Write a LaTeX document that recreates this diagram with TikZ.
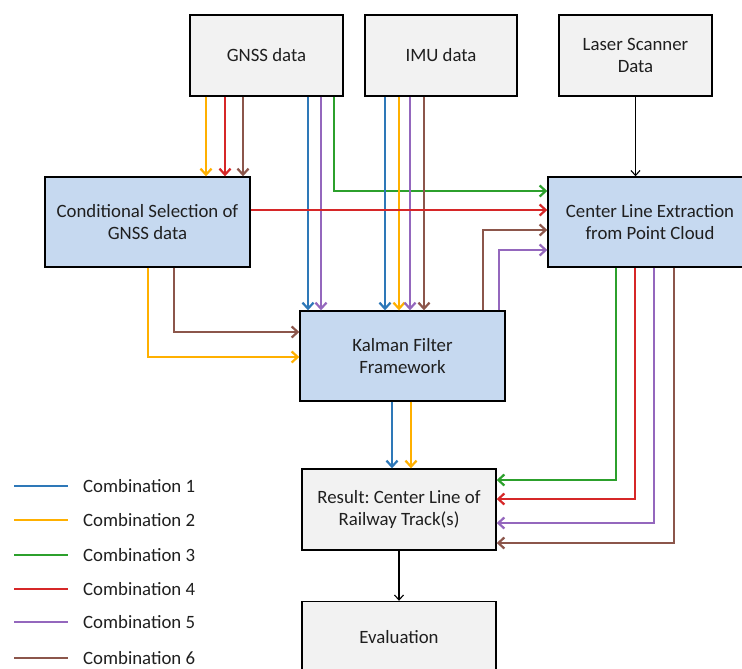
\documentclass[tikz,border=0pt]{standalone}
\usepackage{fontspec}
\setmainfont{Carlito}
\usetikzlibrary{arrows.meta}
\definecolor{cblue}{HTML}{2E78B8}
\definecolor{corange}{HTML}{FFB000}
\definecolor{cgreen}{HTML}{2CA02C}
\definecolor{cred}{HTML}{D62728}
\definecolor{cpurple}{HTML}{9467BD}
\definecolor{cbrown}{HTML}{8C564B}
\definecolor{boxgray}{HTML}{F2F2F2}
\definecolor{boxblue}{HTML}{C6D9F0}
\frenchspacing
\tikzset{
  x=1pt, y=-1pt,
  every node/.style={font=\fontsize{18.8}{22.5}\selectfont, text=black!88},
  graybox/.style={draw=black, line width=1.4pt, fill=boxgray, align=center, inner sep=0pt},
  bluebox/.style={draw=black, line width=1.4pt, fill=boxblue, align=center, inner sep=0pt},
  cl/.style={line width=2.5pt, -{Straight Barb[length=6pt,width=11pt,line width=2.2pt]}},
  leg/.style={line width=2.5pt},
  blk/.style={line width=1.1pt, black, -{Straight Barb[length=5pt,width=9pt,line width=1.1pt]}}
}
\begin{document}
\begin{tikzpicture}
\useasboundingbox (0,0) rectangle (742,669);
\clip (0,0) rectangle (742,669);
\fill[white] (0,0) rectangle (742,669);
% boxes
\node[graybox, minimum width=153pt, minimum height=81pt] (gnss) at (266.5,55.5) {GNSS data};
\node[graybox, minimum width=152pt, minimum height=81pt] (imu) at (441,55.5) {IMU data};
\node[graybox, minimum width=153pt, minimum height=81pt] (laser) at (635.5,55.5) {Laser Scanner\\Data};
\node[bluebox, minimum width=205pt, minimum height=90pt] (cond) at (147.5,222) {Conditional Selection of\\GNSS data};
\node[bluebox, minimum width=204pt, minimum height=90pt] (cl) at (650,222) {Center Line Extraction\\from Point Cloud};
\node[bluebox, minimum width=205pt, minimum height=90pt] (kal) at (402.5,356) {Kalman Filter\\Framework};
\node[graybox, minimum width=194pt, minimum height=81pt] (res) at (399,509.5) {Result: Center Line of\\Railway Track(s)};
\node[graybox, minimum width=194pt, minimum height=81pt] (eval) at (399,642) {};
\node at (399,637) (evaltext) {Evaluation};
% GNSS -> cond
\draw[cl, corange] (gnss.south -| 206,0) -- (cond.north -| 206,0);
\draw[cl, cred] (gnss.south -| 225,0) -- (cond.north -| 225,0);
\draw[cl, cbrown] (gnss.south -| 243,0) -- (cond.north -| 243,0);
% GNSS -> kalman
\draw[cl, cblue] (gnss.south -| 308,0) -- (kal.north -| 308,0);
\draw[cl, cpurple] (gnss.south -| 321,0) -- (kal.north -| 321,0);
% GNSS -> CL (green)
\draw[cl, cgreen] (gnss.south -| 334,0) |- (cl.west |- 0,191);
% IMU -> kalman
\draw[cl, cblue] (imu.south -| 385,0) -- (kal.north -| 385,0);
\draw[cl, corange] (imu.south -| 399,0) -- (kal.north -| 399,0);
\draw[cl, cpurple] (imu.south -| 410,0) -- (kal.north -| 410,0);
\draw[cl, cbrown] (imu.south -| 424,0) -- (kal.north -| 424,0);
% cond -> CL
\draw[cl, cred] (cond.east |- 0,210) -- (cl.west |- 0,210);
% cond -> kalman
\draw[cl, cbrown] (cond.south -| 174,0) |- (kal.west |- 0,332);
\draw[cl, corange] (cond.south -| 148,0) |- (kal.west |- 0,357);
% kalman -> CL
\draw[cl, cbrown] (kal.north -| 483,0) |- (cl.west |- 0,230);
\draw[cl, cpurple] (kal.north -| 499,0) |- (cl.west |- 0,250);
% kalman -> result
\draw[cl, cblue] (kal.south -| 392,0) -- (res.north -| 392,0);
\draw[cl, corange] (kal.south -| 411,0) -- (res.north -| 411,0);
% CL -> result
\draw[cl, cgreen] (cl.south -| 616,0) |- (res.east |- 0,480);
\draw[cl, cred] (cl.south -| 635,0) |- (res.east |- 0,499);
\draw[cl, cpurple] (cl.south -| 654,0) |- (res.east |- 0,523);
\draw[cl, cbrown] (cl.south -| 674,0) |- (res.east |- 0,543);
% black arrows
\draw[blk] (laser.south) -- (cl.north -| laser.south);
\draw[blk] (res.south) -- (eval.north);
% legend
\foreach \i/\c/\yy in {1/cblue/486, 2/corange/520, 3/cgreen/555, 4/cred/589, 5/cpurple/622, 6/cbrown/658}{
  \coordinate (la\i) at (14,\yy);
  \coordinate (lb\i) at (68,\yy);
  \draw[leg, \c] (la\i) -- (lb\i);
  \node[anchor=west, inner sep=0pt] (lt\i) at (83,\yy) {Combination \i};
}
\end{tikzpicture}
\end{document}
